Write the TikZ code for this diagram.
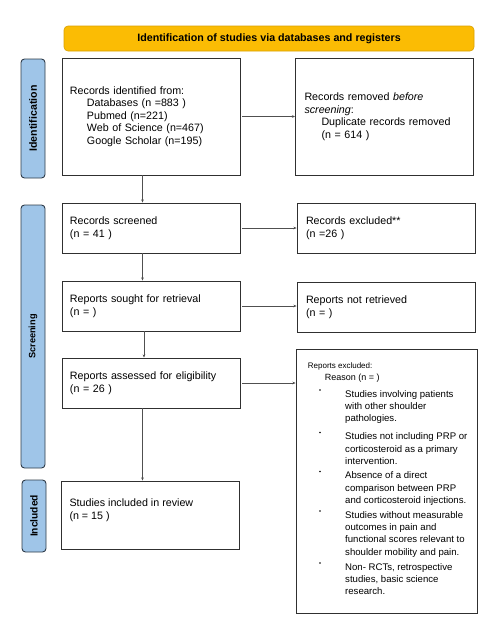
\documentclass[tikz,border=0pt]{standalone}
\usepackage{fontspec}
\setmainfont{Liberation Sans}
\usetikzlibrary{arrows.meta,calc}
\definecolor{banfill}{HTML}{FBBC04}
\definecolor{bandraw}{HTML}{D9A000}
\definecolor{sidefill}{HTML}{9FC5E8}
\definecolor{sidedraw}{HTML}{2E3B48}
\definecolor{boxdraw}{HTML}{303030}
\definecolor{arrcol}{HTML}{505050}
\newcommand\mainf{\fontsize{10.7}{12.5}\selectfont}
\newcommand\itemf{\fontsize{9.6}{12.3}\selectfont}
\begin{document}
\begin{tikzpicture}[x=1pt,y=-1pt,
  box/.style={draw=boxdraw,line width=0.8pt,rectangle,inner ysep=0pt,align=left,font=\mainf},
  lbox/.style={box,inner xsep=8pt,text width=162pt,minimum width=178pt},
  rbox/.style={box,inner xsep=9pt,text width=160pt,minimum width=178pt},
  side/.style={draw=sidedraw,fill=sidefill,line width=0.9pt,rounded corners=3.5pt,rotate=90,minimum height=24pt,inner sep=0pt,font=\bfseries\fontsize{10.6}{12}\selectfont},
  banner/.style={draw=bandraw,fill=banfill,line width=0.6pt,rounded corners=4pt,minimum width=410pt,minimum height=25pt,inner sep=0pt,font=\bfseries\fontsize{10.7}{12}\selectfont},
  arr/.style={draw=arrcol,line width=0.7pt,-{Stealth[length=3.2pt,width=2.6pt]}},
  txt/.style={inner sep=0pt,align=left,anchor=north west},
  itm/.style={txt,font=\itemf},
  bul/.style={circle,fill=black,inner sep=0pt,minimum size=1.6pt}
]
\useasboundingbox (0,0) rectangle (494,633);
% banner
\node[banner] (ban) at (269,38.5) {Identification of studies via databases and registers};
% side labels
\node[side,minimum width=119pt] (sid) at (33,118.5) {Identification};
\node[side,minimum width=263pt,font=\bfseries\fontsize{9.2}{11}\selectfont] (ssc) at (33,336.5) {Screening};
\node[side,minimum width=72pt,font=\bfseries\fontsize{10.2}{12}\selectfont] (sin) at (34,516) {Included};
% boxes
\node[lbox,minimum height=117pt] (idf) at (151,116.5) {Records identified from:\\
\hspace*{17pt}Databases (n =883 )\\
\hspace*{17pt}Pubmed (n=221)\\
\hspace*{17pt}Web of Science (n=467)\\
\hspace*{17pt}Google Scholar (n=195)};
\node[rbox,minimum width=177pt,minimum height=117pt] (rem) at (384.5,116.5) {Records removed \textit{before}\\
\textit{screening}:\\
\hspace*{17pt}Duplicate records removed\\
\hspace*{17pt}(n = 614 )};
\node[lbox,minimum height=50pt] (scr) at (151,228) {Records screened\\(n = 41 )};
\node[rbox,minimum height=50pt] (exc) at (386,228) {Records excluded**\\(n =26 )};
\node[lbox,minimum height=50pt] (sou) at (151,306) {Reports sought for retrieval\\(n = )};
\node[rbox,minimum height=50pt] (ret) at (386,307) {Reports not retrieved\\(n = )};
\node[lbox,minimum height=50pt] (ass) at (151,383) {Reports assessed for eligibility\\(n = 26 )};
\node[box,minimum width=181pt,minimum height=264pt] (rex) at (386.5,481) {};
\node[box,minimum width=178pt,minimum height=68pt] (inc) at (150,515) {};
\node[txt,font=\mainf] (inct) at (69.3,497.7) {\strut Studies included in review\\(n = 15 )};
% excluded reasons
\node[txt,font=\fontsize{8}{11.7}\selectfont] (rexh) at (307.7,360) {\strut Reports excluded:\\
\hspace*{17pt}{\fontsize{9}{11.7}\selectfont Reason (n = )}};
\node[itm] (r1) at (345,397-8.61) {\strut Studies involving patients\\with other shoulder\\pathologies.};
\node[itm] (r2) at (345,439.5-8.61) {\strut Studies not including PRP or\\corticosteroid as a primary\\intervention.};
\node[itm] (r3) at (345,478.5-8.61) {\strut Absence of a direct\\comparison between PRP\\and corticosteroid injections.};
\node[itm] (r4) at (345,518-8.61) {\strut Studies without measurable\\outcomes in pain and\\functional scores relevant to\\shoulder mobility and pain.};
\node[itm] (r5) at (345,570-8.61) {\strut Non- RCTs, retrospective\\studies, basic science\\research.};
\node[bul] (b1) at (320,390) {};
\node[bul] (b2) at (320,432.5) {};
\node[bul] (b3) at (320,471.5) {};
\node[bul] (b4) at (320,511) {};
\node[bul] (b5) at (320,563) {};
% connectors
\coordinate (col) at (142.5,0);
\draw[arr] (idf.south -| col) -- (scr.north -| col);
\draw[arr] (scr.south -| col) -- (sou.north -| col);
\draw[arr] ([xshift=1.5pt]sou.south -| col) -- ([xshift=1.5pt]ass.north -| col);
\draw[arr] (ass.south -| col) -- (inc.north -| col);
\draw[arr,shorten <=2pt] (idf.east) -- (rem.west);
\draw[arr,shorten <=2pt] (scr.east) -- (scr.east -| exc.west);
\draw[arr,shorten <=2pt] (sou.east) -- (sou.east -| ret.west);
\draw[arr,shorten <=2pt] (ass.east) -- (ass.east -| rex.west);
\end{tikzpicture}
\end{document}
